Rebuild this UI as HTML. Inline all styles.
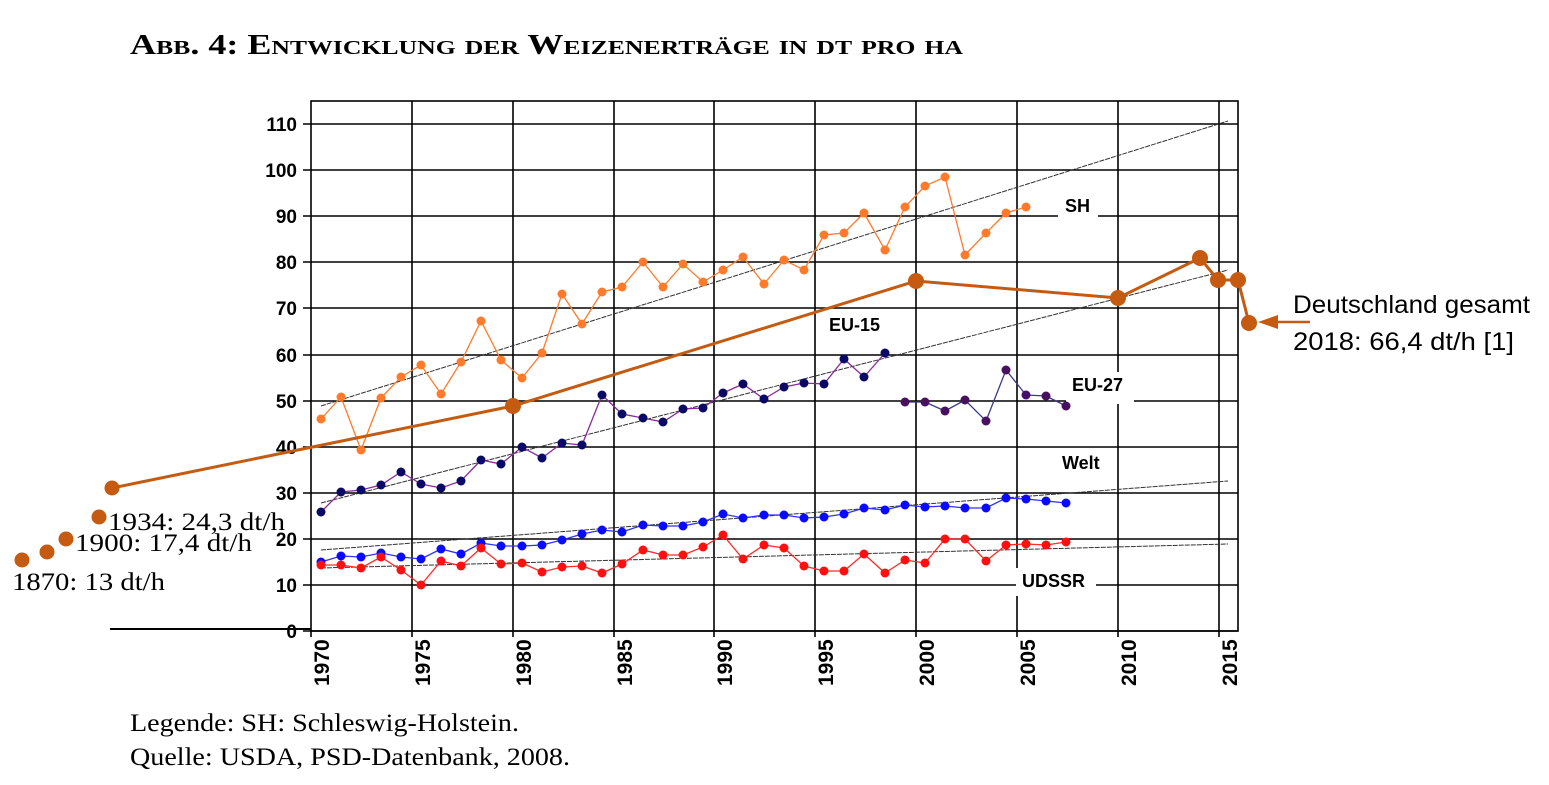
<!DOCTYPE html>
<html><head><meta charset="utf-8"><style>
html,body{margin:0;padding:0;background:#fff;}
svg{display:block;}
.ax{font-family:"Liberation Sans",Arial,sans-serif;font-weight:bold;font-size:19px;fill:#000;}
.axx{font-family:"Liberation Sans",Arial,sans-serif;font-weight:bold;font-size:21px;fill:#000;}
.lb{font-family:"Liberation Sans",Arial,sans-serif;font-weight:bold;font-size:18px;fill:#000;}
.sr{font-family:"Liberation Serif","Times New Roman",serif;font-size:25px;fill:#000;}
.sa{font-family:"Liberation Sans",Calibri,sans-serif;font-size:25px;fill:#000;}
</style></head><body>
<svg width="1549" height="785" viewBox="0 0 1549 785" xmlns="http://www.w3.org/2000/svg">
<text x="130" y="54" font-family="Liberation Serif, serif" font-weight="bold" font-size="28" style="font-variant:small-caps" textLength="833" lengthAdjust="spacingAndGlyphs">Abb. 4: Entwicklung der Weizenerträge in dt pro ha</text>
<g stroke="#000" stroke-width="1.6" fill="none">
<rect x="311" y="101" width="927" height="530"/>
<line x1="412" y1="101" x2="412" y2="637"/><line x1="513" y1="101" x2="513" y2="637"/>
<line x1="614" y1="101" x2="614" y2="637"/><line x1="714" y1="101" x2="714" y2="637"/>
<line x1="815" y1="101" x2="815" y2="637"/><line x1="916" y1="101" x2="916" y2="637"/>
<line x1="1017" y1="101" x2="1017" y2="637"/><line x1="1118" y1="101" x2="1118" y2="637"/>
<line x1="1219" y1="101" x2="1219" y2="637"/><line x1="311" y1="631" x2="311" y2="637"/>
<line x1="303" y1="124" x2="1238" y2="124"/><line x1="303" y1="170" x2="1238" y2="170"/>
<line x1="303" y1="216" x2="1238" y2="216"/><line x1="303" y1="262" x2="1238" y2="262"/>
<line x1="303" y1="308" x2="1238" y2="308"/><line x1="303" y1="355" x2="1238" y2="355"/>
<line x1="303" y1="401" x2="1238" y2="401"/><line x1="303" y1="447" x2="1238" y2="447"/>
<line x1="303" y1="493" x2="1238" y2="493"/><line x1="303" y1="539" x2="1238" y2="539"/>
<line x1="303" y1="585" x2="1238" y2="585"/><line x1="303" y1="631" x2="1238" y2="631"/>
<line x1="110" y1="629" x2="311" y2="629" stroke-width="2"/>
</g>
<g class="ax" text-anchor="end">
<text x="297" y="131">110</text><text x="297" y="177">100</text><text x="297" y="223">90</text>
<text x="297" y="269">80</text><text x="297" y="315">70</text><text x="297" y="362">60</text>
<text x="297" y="408">50</text><text x="297" y="454">40</text><text x="297" y="500">30</text>
<text x="297" y="546">20</text><text x="297" y="592">10</text><text x="297" y="638">0</text>
</g>
<g class="axx">
<text transform="translate(329,686) rotate(-90)">1970</text><text transform="translate(430,686) rotate(-90)">1975</text>
<text transform="translate(531,686) rotate(-90)">1980</text><text transform="translate(632,686) rotate(-90)">1985</text>
<text transform="translate(732,686) rotate(-90)">1990</text><text transform="translate(833,686) rotate(-90)">1995</text>
<text transform="translate(934,686) rotate(-90)">2000</text><text transform="translate(1035,686) rotate(-90)">2005</text>
<text transform="translate(1136,686) rotate(-90)">2010</text><text transform="translate(1237,686) rotate(-90)">2015</text>
</g>
<rect x="1058" y="192" width="40" height="30" fill="#fff"/>
<rect x="1066" y="372" width="68" height="32" fill="#fff"/>
<rect x="1016" y="568" width="80" height="28" fill="#fff"/>
<g stroke="#333" stroke-width="1" stroke-dasharray="5,1">
<line x1="321" y1="406" x2="1228" y2="121"/>
<line x1="321" y1="503" x2="1228" y2="270"/>
<line x1="321" y1="550" x2="1228" y2="481"/>
<line x1="321" y1="568" x2="1228" y2="544"/>
</g>
<polyline fill="none" stroke="#ff7a2a" stroke-width="1.3" points="321,419 341,397 361,450 381,398 401,377 421,365 441,394 461,362 481,321 501,360 522,378 542,353 562,294 582,324 602,292 622,287 643,262 663,287 683,264 703,282 723,270 743,257 764,284 784,260 804,270 824,235 844,233 864,213 885,250 905,207 925,186 945,177 965,255 986,233 1006,213 1026,207"/>
<g fill="#ff7a2a"><circle cx="321" cy="419" r="4.5"/><circle cx="341" cy="397" r="4.5"/><circle cx="361" cy="450" r="4.5"/><circle cx="381" cy="398" r="4.5"/><circle cx="401" cy="377" r="4.5"/><circle cx="421" cy="365" r="4.5"/><circle cx="441" cy="394" r="4.5"/><circle cx="461" cy="362" r="4.5"/><circle cx="481" cy="321" r="4.5"/><circle cx="501" cy="360" r="4.5"/><circle cx="522" cy="378" r="4.5"/><circle cx="542" cy="353" r="4.5"/><circle cx="562" cy="294" r="4.5"/><circle cx="582" cy="324" r="4.5"/><circle cx="602" cy="292" r="4.5"/><circle cx="622" cy="287" r="4.5"/><circle cx="643" cy="262" r="4.5"/><circle cx="663" cy="287" r="4.5"/><circle cx="683" cy="264" r="4.5"/><circle cx="703" cy="282" r="4.5"/><circle cx="723" cy="270" r="4.5"/><circle cx="743" cy="257" r="4.5"/><circle cx="764" cy="284" r="4.5"/><circle cx="784" cy="260" r="4.5"/><circle cx="804" cy="270" r="4.5"/><circle cx="824" cy="235" r="4.5"/><circle cx="844" cy="233" r="4.5"/><circle cx="864" cy="213" r="4.5"/><circle cx="885" cy="250" r="4.5"/><circle cx="905" cy="207" r="4.5"/><circle cx="925" cy="186" r="4.5"/><circle cx="945" cy="177" r="4.5"/><circle cx="965" cy="255" r="4.5"/><circle cx="986" cy="233" r="4.5"/><circle cx="1006" cy="213" r="4.5"/><circle cx="1026" cy="207" r="4.5"/></g>
<polyline fill="none" stroke="#8a2a9a" stroke-width="1.3" points="321,512 341,492 361,490 381,485 401,472 421,484 441,488 461,481 481,460 501,464 522,447 542,458 562,443 582,445 602,395 622,414 643,418 663,422 683,409 703,408 723,393 743,384 764,399 784,387 804,383 824,384 844,359 864,377 885,353"/>
<g fill="#0a0a66"><circle cx="321" cy="512" r="4.5"/><circle cx="341" cy="492" r="4.5"/><circle cx="361" cy="490" r="4.5"/><circle cx="381" cy="485" r="4.5"/><circle cx="401" cy="472" r="4.5"/><circle cx="421" cy="484" r="4.5"/><circle cx="441" cy="488" r="4.5"/><circle cx="461" cy="481" r="4.5"/><circle cx="481" cy="460" r="4.5"/><circle cx="501" cy="464" r="4.5"/><circle cx="522" cy="447" r="4.5"/><circle cx="542" cy="458" r="4.5"/><circle cx="562" cy="443" r="4.5"/><circle cx="582" cy="445" r="4.5"/><circle cx="602" cy="395" r="4.5"/><circle cx="622" cy="414" r="4.5"/><circle cx="643" cy="418" r="4.5"/><circle cx="663" cy="422" r="4.5"/><circle cx="683" cy="409" r="4.5"/><circle cx="703" cy="408" r="4.5"/><circle cx="723" cy="393" r="4.5"/><circle cx="743" cy="384" r="4.5"/><circle cx="764" cy="399" r="4.5"/><circle cx="784" cy="387" r="4.5"/><circle cx="804" cy="383" r="4.5"/><circle cx="824" cy="384" r="4.5"/><circle cx="844" cy="359" r="4.5"/><circle cx="864" cy="377" r="4.5"/><circle cx="885" cy="353" r="4.5"/></g>
<polyline fill="none" stroke="#3a3a8a" stroke-width="1.3" points="905,402 925,402 945,411 965,400 986,421 1006,370 1026,395 1046,396 1066,406"/>
<g fill="#4a1060"><circle cx="905" cy="402" r="4.5"/><circle cx="925" cy="402" r="4.5"/><circle cx="945" cy="411" r="4.5"/><circle cx="965" cy="400" r="4.5"/><circle cx="986" cy="421" r="4.5"/><circle cx="1006" cy="370" r="4.5"/><circle cx="1026" cy="395" r="4.5"/><circle cx="1046" cy="396" r="4.5"/><circle cx="1066" cy="406" r="4.5"/></g>
<polyline fill="none" stroke="#3030ff" stroke-width="1.3" points="321,562 341,556 361,557 381,553 401,557 421,559 441,549 461,554 481,543 501,546 522,546 542,545 562,540 582,534 602,530 622,532 643,525 663,526 683,526 703,522 723,514 743,518 764,515 784,515 804,518 824,517 844,514 864,508 885,510 905,505 925,507 945,506 965,508 986,508 1006,498 1026,499 1046,501 1066,503"/>
<g fill="#0a0aff"><circle cx="321" cy="562" r="4.5"/><circle cx="341" cy="556" r="4.5"/><circle cx="361" cy="557" r="4.5"/><circle cx="381" cy="553" r="4.5"/><circle cx="401" cy="557" r="4.5"/><circle cx="421" cy="559" r="4.5"/><circle cx="441" cy="549" r="4.5"/><circle cx="461" cy="554" r="4.5"/><circle cx="481" cy="543" r="4.5"/><circle cx="501" cy="546" r="4.5"/><circle cx="522" cy="546" r="4.5"/><circle cx="542" cy="545" r="4.5"/><circle cx="562" cy="540" r="4.5"/><circle cx="582" cy="534" r="4.5"/><circle cx="602" cy="530" r="4.5"/><circle cx="622" cy="532" r="4.5"/><circle cx="643" cy="525" r="4.5"/><circle cx="663" cy="526" r="4.5"/><circle cx="683" cy="526" r="4.5"/><circle cx="703" cy="522" r="4.5"/><circle cx="723" cy="514" r="4.5"/><circle cx="743" cy="518" r="4.5"/><circle cx="764" cy="515" r="4.5"/><circle cx="784" cy="515" r="4.5"/><circle cx="804" cy="518" r="4.5"/><circle cx="824" cy="517" r="4.5"/><circle cx="844" cy="514" r="4.5"/><circle cx="864" cy="508" r="4.5"/><circle cx="885" cy="510" r="4.5"/><circle cx="905" cy="505" r="4.5"/><circle cx="925" cy="507" r="4.5"/><circle cx="945" cy="506" r="4.5"/><circle cx="965" cy="508" r="4.5"/><circle cx="986" cy="508" r="4.5"/><circle cx="1006" cy="498" r="4.5"/><circle cx="1026" cy="499" r="4.5"/><circle cx="1046" cy="501" r="4.5"/><circle cx="1066" cy="503" r="4.5"/></g>
<polyline fill="none" stroke="#ff2a2a" stroke-width="1.3" points="321,565 341,565 361,568 381,557 401,570 421,585 441,561 461,566 481,548 501,564 522,563 542,572 562,567 582,566 602,573 622,564 643,550 663,555 683,555 703,547 723,535 743,559 764,545 784,548 804,566 824,571 844,571 864,554 885,573 905,560 925,563 945,539 965,539 986,561 1006,545 1026,544 1046,545 1066,542"/>
<g fill="#ff1010"><circle cx="321" cy="565" r="4.5"/><circle cx="341" cy="565" r="4.5"/><circle cx="361" cy="568" r="4.5"/><circle cx="381" cy="557" r="4.5"/><circle cx="401" cy="570" r="4.5"/><circle cx="421" cy="585" r="4.5"/><circle cx="441" cy="561" r="4.5"/><circle cx="461" cy="566" r="4.5"/><circle cx="481" cy="548" r="4.5"/><circle cx="501" cy="564" r="4.5"/><circle cx="522" cy="563" r="4.5"/><circle cx="542" cy="572" r="4.5"/><circle cx="562" cy="567" r="4.5"/><circle cx="582" cy="566" r="4.5"/><circle cx="602" cy="573" r="4.5"/><circle cx="622" cy="564" r="4.5"/><circle cx="643" cy="550" r="4.5"/><circle cx="663" cy="555" r="4.5"/><circle cx="683" cy="555" r="4.5"/><circle cx="703" cy="547" r="4.5"/><circle cx="723" cy="535" r="4.5"/><circle cx="743" cy="559" r="4.5"/><circle cx="764" cy="545" r="4.5"/><circle cx="784" cy="548" r="4.5"/><circle cx="804" cy="566" r="4.5"/><circle cx="824" cy="571" r="4.5"/><circle cx="844" cy="571" r="4.5"/><circle cx="864" cy="554" r="4.5"/><circle cx="885" cy="573" r="4.5"/><circle cx="905" cy="560" r="4.5"/><circle cx="925" cy="563" r="4.5"/><circle cx="945" cy="539" r="4.5"/><circle cx="965" cy="539" r="4.5"/><circle cx="986" cy="561" r="4.5"/><circle cx="1006" cy="545" r="4.5"/><circle cx="1026" cy="544" r="4.5"/><circle cx="1046" cy="545" r="4.5"/><circle cx="1066" cy="542" r="4.5"/></g>
<g class="lb">
<text x="1065" y="212">SH</text><text x="829" y="331">EU-15</text><text x="1072" y="391">EU-27</text>
<text x="1062" y="469">Welt</text><text x="1022" y="587">UDSSR</text>
</g>
<polyline fill="none" stroke="#c55a11" stroke-width="3" points="112,488 513,406 916,281 1118,298 1200,258 1218,280 1238,280 1249,323"/>
<g fill="#c55a11">
<circle cx="112" cy="488" r="7.5"/><circle cx="513" cy="406" r="8"/><circle cx="916" cy="281" r="8"/>
<circle cx="1118" cy="298" r="8"/><circle cx="1200" cy="258" r="8"/><circle cx="1218" cy="280" r="8"/>
<circle cx="1238" cy="280" r="8"/><circle cx="1249" cy="323" r="8"/>
<circle cx="99" cy="517" r="7.5"/><circle cx="66" cy="539" r="7.5"/><circle cx="47" cy="552" r="7.5"/><circle cx="22" cy="560" r="7.5"/>
<line x1="1272" y1="322" x2="1310" y2="322" stroke="#c55a11" stroke-width="2.5"/>
<polygon points="1258,322 1278,315 1278,329"/>
</g>
<text class="sr" x="108" y="530" textLength="177" lengthAdjust="spacingAndGlyphs">1934: 24,3 dt/h</text>
<text class="sr" x="75" y="551" textLength="177" lengthAdjust="spacingAndGlyphs">1900: 17,4 dt/h</text>
<text class="sr" x="12" y="590" textLength="153" lengthAdjust="spacingAndGlyphs">1870: 13 dt/h</text>
<text class="sa" x="1293" y="313" textLength="237" lengthAdjust="spacingAndGlyphs">Deutschland gesamt</text>
<text class="sa" x="1293" y="350" textLength="221" lengthAdjust="spacingAndGlyphs">2018: 66,4 dt/h [1]</text>
<text class="sr" x="130" y="731" textLength="389" lengthAdjust="spacingAndGlyphs">Legende: SH: Schleswig-Holstein.</text>
<text class="sr" x="130" y="765" textLength="440" lengthAdjust="spacingAndGlyphs">Quelle: USDA, PSD-Datenbank, 2008.</text>
</svg>
</body></html>
